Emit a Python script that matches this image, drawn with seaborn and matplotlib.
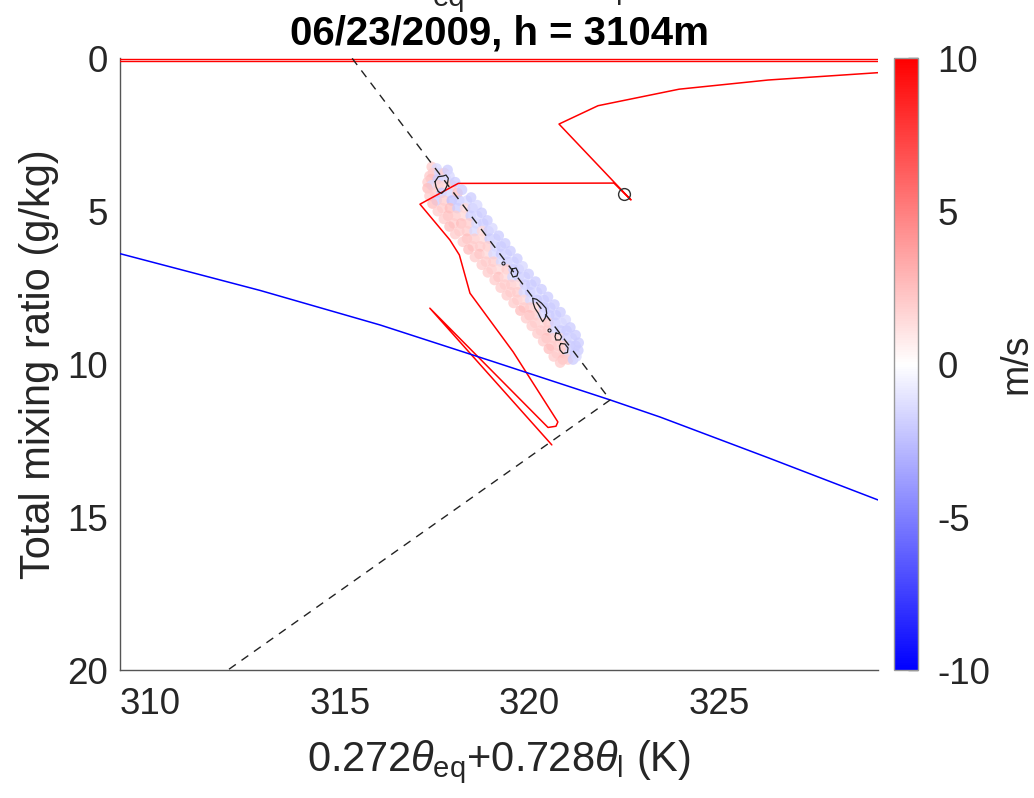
import matplotlib
matplotlib.use("Agg")
import matplotlib.pyplot as plt
import numpy as np
import pandas as pd
import seaborn as sns
from matplotlib.colors import Normalize
from matplotlib.cm import ScalarMappable

# ---------------- data ----------------
# red profile (x: 0.272*theta_eq + 0.728*theta_l [K], y: total mixing ratio [g/kg])
red_x = [329.20, 326.30, 323.95, 321.81, 320.78, 322.68, 322.23, 318.12, 317.11,
         317.90, 318.15, 318.43, 319.57, 320.75, 320.70, 320.49, 317.37, 320.59]
red_y = [0.47, 0.71, 1.01, 1.55, 2.15, 4.63, 4.08, 4.09, 4.77,
         5.94, 6.43, 7.68, 9.60, 11.89, 12.03, 12.07, 8.17, 12.64]

# two near-zero red lines at the top
top1_x = [305.0, 335.0]
top1_y = [0.03, 0.03]
top2_x = [305.0, 335.0]
top2_y = [0.08, 0.08]

# blue saturation curve
blue_x = [309.20, 312.89, 316.06, 319.00, 322.13, 323.45, 326.30, 329.20]
blue_y = [6.39, 7.59, 8.72, 9.90, 11.17, 11.73, 13.06, 14.44]

# dashed mixing lines
dash1_x = [315.32, 322.13]
dash1_y = [0.0, 11.17]
dash2_x = [322.13, 312.04]
dash2_y = [11.17, 20.0]

# marked point
circ_x = [322.49]
circ_y = [4.44]

# scattered samples coloured by vertical velocity (m/s)
scatter_x = [
    317.42, 317.55,
    317.45, 317.62, 317.75, 317.36, 317.84,
    317.40, 317.58, 317.80, 317.31, 317.89,
    317.42, 317.60, 317.78, 317.95, 317.31, 318.04,
    317.50, 317.68, 317.88, 318.10, 317.36, 318.22,
    317.55, 317.75, 317.95, 318.15, 318.35, 317.44, 318.46,
    317.70, 317.90, 318.10, 318.30, 318.50, 317.58, 318.62,
    317.85, 318.05, 318.25, 318.45, 318.62, 317.74, 318.74,
    318.00, 318.20, 318.40, 318.60, 318.78, 317.89, 318.89,
    318.15, 318.35, 318.55, 318.75, 318.92, 318.04, 319.02,
    318.35, 318.55, 318.75, 318.95, 319.10, 318.24, 319.19,
    318.50, 318.70, 318.90, 319.10, 319.25, 318.39, 319.36,
    318.68, 318.88, 319.05, 319.25, 319.40, 318.56, 319.50,
    318.85, 319.05, 319.25, 319.42, 319.58, 318.74, 319.68,
    319.00, 319.20, 319.40, 319.58, 319.72, 318.90, 319.82,
    319.18, 319.35, 319.55, 319.72, 319.88, 319.08, 319.98,
    319.35, 319.52, 319.70, 319.88, 320.05, 319.24, 320.16,
    319.50, 319.68, 319.85, 320.02, 320.20, 319.40, 320.32,
    319.68, 319.85, 320.02, 320.20, 320.38, 319.58, 320.49,
    319.85, 320.02, 320.20, 320.38, 320.55, 319.76, 320.66,
    320.00, 320.18, 320.35, 320.52, 320.70, 319.91, 320.82,
    320.15, 320.32, 320.50, 320.68, 320.85, 320.06, 320.96,
    320.30, 320.48, 320.65, 320.82, 320.98, 320.21, 321.08,
    320.45, 320.62, 320.80, 320.98, 321.12, 320.36, 321.22,
    320.58, 320.75, 320.92, 321.08, 321.22, 320.51, 321.30,
    320.72, 320.90, 321.05, 321.20, 320.64, 321.29,
    320.88, 321.02, 321.15, 320.81, 321.24,
]
scatter_y = [
    3.55, 3.60,
    3.75, 3.75, 3.75, 3.85, 3.65,
    3.95, 3.95, 3.95, 4.05, 3.85,
    4.15, 4.15, 4.15, 4.15, 4.25, 4.05,
    4.40, 4.40, 4.40, 4.40, 4.50, 4.30,
    4.65, 4.65, 4.65, 4.65, 4.65, 4.75, 4.55,
    4.90, 4.90, 4.90, 4.90, 4.90, 5.00, 4.80,
    5.15, 5.15, 5.15, 5.15, 5.15, 5.25, 5.05,
    5.40, 5.40, 5.40, 5.40, 5.40, 5.50, 5.30,
    5.65, 5.65, 5.65, 5.65, 5.65, 5.75, 5.55,
    5.90, 5.90, 5.90, 5.90, 5.90, 6.00, 5.80,
    6.15, 6.15, 6.15, 6.15, 6.15, 6.25, 6.05,
    6.40, 6.40, 6.40, 6.40, 6.40, 6.50, 6.30,
    6.65, 6.65, 6.65, 6.65, 6.65, 6.75, 6.55,
    6.90, 6.90, 6.90, 6.90, 6.90, 7.00, 6.80,
    7.15, 7.15, 7.15, 7.15, 7.15, 7.25, 7.05,
    7.40, 7.40, 7.40, 7.40, 7.40, 7.50, 7.30,
    7.65, 7.65, 7.65, 7.65, 7.65, 7.75, 7.55,
    7.90, 7.90, 7.90, 7.90, 7.90, 8.00, 7.80,
    8.15, 8.15, 8.15, 8.15, 8.15, 8.25, 8.05,
    8.40, 8.40, 8.40, 8.40, 8.40, 8.50, 8.30,
    8.65, 8.65, 8.65, 8.65, 8.65, 8.75, 8.55,
    8.90, 8.90, 8.90, 8.90, 8.90, 9.00, 8.80,
    9.15, 9.15, 9.15, 9.15, 9.15, 9.25, 9.05,
    9.40, 9.40, 9.40, 9.40, 9.40, 9.50, 9.30,
    9.65, 9.65, 9.65, 9.65, 9.75, 9.55,
    9.85, 9.85, 9.85, 9.95, 9.75,
]
scatter_w = [
    2.0, -1.5,
    2.0, -1.5, 2.0, 2.0, -2.0,
    2.5, -2.0, -1.5, 2.0, -1.5,
    -1.5, 2.0, 1.5, 2.0, 2.5, -2.0,
    2.0, -2.0, -1.5, 2.5, 2.0, -2.0,
    -2.0, 2.0, -2.5, -2.0, -1.5, 2.5, -2.0,
    2.0, 2.5, -2.0, 1.5, -2.0, 2.0, -1.5,
    2.5, 2.0, 1.5, -2.0, -1.5, 2.0, -2.0,
    2.0, 2.5, 2.0, -1.5, -2.0, 2.5, -2.0,
    2.0, 2.0, -1.5, 1.5, -2.0, 2.0, -1.5,
    2.5, 2.0, 1.5, -2.0, -1.5, 2.0, -2.0,
    2.0, 2.0, 2.0, -1.5, -2.0, 2.5, -2.0,
    2.5, 1.5, -1.5, -2.0, -1.5, 2.0, -2.0,
    2.0, 2.0, -1.5, -2.0, -1.5, 2.0, -2.0,
    2.0, 1.5, 2.0, -2.0, -2.0, 2.0, -1.5,
    2.5, 1.5, -1.5, -2.0, -1.5, 2.0, -2.0,
    2.0, 2.0, 1.5, -2.0, -2.0, 2.0, -2.0,
    2.0, 2.0, -1.5, -2.0, -1.5, 2.0, -2.0,
    2.0, 1.5, -1.5, -2.0, -2.0, 2.0, -2.0,
    2.0, 2.0, 1.5, -2.0, -2.0, 2.5, -2.0,
    2.5, 2.0, -1.5, -2.0, -2.0, 2.0, -2.0,
    2.0, 1.5, 2.0, -2.0, -1.5, 2.0, -1.5,
    2.0, 2.0, -1.5, -2.0, -2.0, 2.0, -2.0,
    2.5, 2.0, 1.5, -2.0, -1.5, 2.0, -2.0,
    2.0, 2.0, 2.0, -2.0, -2.0, 2.5, -2.0,
    2.0, 2.0, -1.5, -2.0, 2.0, -2.0,
    2.5, 2.0, -2.0, 2.0, -1.5,
]

# small black contour loops
loop1_x = [317.507, 317.594, 317.726, 317.797, 317.858, 317.831, 317.771, 317.684, 317.594, 317.533, 317.507]
loop1_y = [4.035, 3.871, 3.848, 3.816, 3.923, 4.143, 4.306, 4.414, 4.362, 4.198, 4.035]
loop2_x = [319.539, 319.645, 319.698, 319.671, 319.566, 319.513, 319.539]
loop2_y = [6.889, 6.857, 6.987, 7.118, 7.150, 7.020, 6.889]
loop3_x = [320.086, 320.191, 320.323, 320.437, 320.455, 320.410, 320.349, 320.297, 320.233, 320.146, 320.101, 320.086]
loop3_y = [7.847, 7.880, 8.011, 8.174, 8.337, 8.501, 8.612, 8.501, 8.337, 8.174, 8.011, 7.847]
loop4_x = [320.700, 320.806, 320.851, 320.806, 320.700, 320.674, 320.700]
loop4_y = [8.981, 9.014, 9.112, 9.210, 9.210, 9.096, 8.981]
loop5_x = [320.833, 320.938, 321.018, 321.004, 320.886, 320.806, 320.793, 320.833]
loop5_y = [9.325, 9.341, 9.472, 9.619, 9.652, 9.537, 9.406, 9.325]
dots_x = [319.30, 320.52]
dots_y = [6.69, 8.88]

title = "06/23/2009, h = 3104m"
xlabel = r"0.272$\theta_{\mathrm{eq}}$+0.728$\theta_{\mathrm{l}}$ (K)"
ylabel = "Total mixing ratio (g/kg)"
cbar_label = "m/s"
xticks = [310, 315, 320, 325]
yticks = [0, 5, 10, 15, 20]
cticks = [-10, -5, 0, 5, 10]

# ---------------- style ----------------
sns.set_theme(style="white")
plt.rcParams["font.family"] = ["Liberation Sans", "DejaVu Sans"]
plt.rcParams["mathtext.fontset"] = "custom"
plt.rcParams["mathtext.rm"] = "Liberation Sans"
plt.rcParams["mathtext.it"] = "Liberation Sans:italic"
plt.rcParams["mathtext.bf"] = "Liberation Sans:bold"
plt.rcParams["axes.unicode_minus"] = False

W, H = 1034, 798
fig = plt.figure(figsize=(W / 100, H / 100), dpi=100)
ax_l, ax_r, ax_t, ax_b = 120.3, 878.0, 58.3, 670.0
ax = fig.add_axes([ax_l / W, 1 - ax_b / H, (ax_r - ax_l) / W, (ax_b - ax_t) / H])

df = pd.DataFrame({"x": scatter_x, "y": scatter_y, "w": scatter_w})
sns.scatterplot(data=df, x="x", y="y", hue="w", palette="bwr", hue_norm=(-10, 10),
                s=58, linewidth=0, alpha=0.75, legend=False, ax=ax, zorder=2)

def line(xs, ys, **kw):
    sns.lineplot(x=xs, y=ys, sort=False, estimator=None, ax=ax, **kw)

line(top1_x, top1_y, color="#ff0000", linewidth=1.0, zorder=3)
line(top2_x, top2_y, color="#ff0000", linewidth=1.0, zorder=3)
line(red_x, red_y, color="#ff0000", linewidth=1.1, zorder=3)
line(blue_x, blue_y, color="#0000ff", linewidth=1.1, zorder=3)
line(dash1_x, dash1_y, color="#222222", linewidth=1.0, linestyle=(0, (6, 5)), zorder=4)
line(dash2_x, dash2_y, color="#222222", linewidth=1.0, linestyle=(0, (6, 5)), zorder=4)

for lx, ly in [(loop1_x, loop1_y), (loop2_x, loop2_y), (loop3_x, loop3_y),
               (loop4_x, loop4_y), (loop5_x, loop5_y)]:
    ax.plot(lx, ly, color="#222222", linewidth=0.9, zorder=5)
ax.plot(dots_x, dots_y, "o", ms=2.2, mfc="none", mec="#222222", mew=0.8, zorder=5)
ax.plot(circ_x, circ_y, "o", ms=8.5, mfc="none", mec="#333333", mew=1.0, zorder=6)

ax.set_xlim(309.2, 329.2)
ax.set_ylim(20, 0)
ax.set_xticks(xticks)
ax.set_yticks(yticks)
ax.set_xlabel(xlabel, fontsize=30, color="#262626", labelpad=12)
ax.set_ylabel(ylabel, fontsize=30, color="#262626", labelpad=6)
ax.set_title(title, fontsize=29, fontweight="bold", color="black", pad=10)
for s in ["top", "right"]:
    ax.spines[s].set_visible(False)
for s in ["left", "bottom"]:
    ax.spines[s].set_color("#555555")
    ax.spines[s].set_linewidth(1.0)
ax.tick_params(direction="in", length=7, width=1, color="#555555",
               labelcolor="#262626", labelsize=26.5)
ax.tick_params(axis="x", pad=12)
ax.tick_params(axis="y", pad=9)
ax.grid(False)

# colorbar
cb_l, cb_r = 894.0, 918.0
cax = fig.add_axes([cb_l / W, 1 - ax_b / H, (cb_r - cb_l) / W, (ax_b - ax_t) / H])
sm = ScalarMappable(norm=Normalize(-10, 10), cmap="bwr")
cb = fig.colorbar(sm, cax=cax, ticks=cticks)
cb.outline.set_edgecolor("#999999")
cb.outline.set_linewidth(1.0)
cax.tick_params(direction="in", length=7, width=1, color="#555555",
                labelcolor="#262626", labelsize=26.5, pad=14)
cb.set_label(cbar_label, fontsize=27, color="#262626", labelpad=6)

# fragments of a clipped upper title line
fig.text(449 / W, 1 - 6 / H, "eq", fontsize=21, ha="center", va="baseline", color="#262626")
fig.text(623 / W, 1 + 1 / H, "p", fontsize=21, ha="center", va="baseline", color="#262626")

fig.savefig("out.png", dpi=100)
